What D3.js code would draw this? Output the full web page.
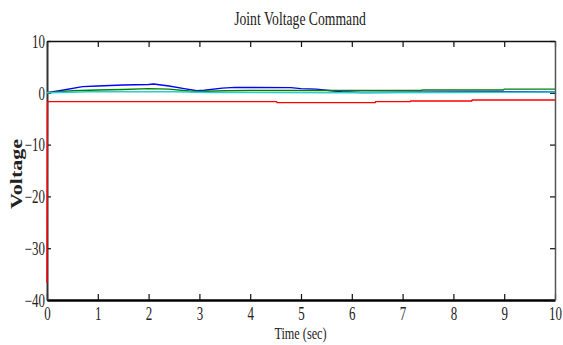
<!DOCTYPE html>
<html>
<head>
<meta charset="utf-8">
<script src="https://cdn.jsdelivr.net/npm/d3@7"></script>
<style>
  html, body { margin: 0; padding: 0; background: #fff; }
  svg text { font-family: "Liberation Serif", "Times New Roman", serif; fill: #222; }
</style>
</head>
<body>
<svg id="chart" width="563" height="345"></svg>
<script>
// Axis ranges and tick values
const xDomain = [0, 10];
const yDomain = [-40, 10];
const xTicks = [0, 1, 2, 3, 4, 5, 6, 7, 8, 9, 10];
const yTicks = [-40, -30, -20, -10, 0, 10];

// Joint voltage command traces: [time (sec), voltage]
const joint1 = [[0, 0], [0.3, 0.5], [0.7, 1.2], [1.0, 1.3], [1.5, 1.5], [2.0, 1.6], [2.1, 1.7],
  [2.4, 1.3], [2.7, 0.8], [2.95, 0.4], [3.1, 0.5], [3.45, 0.9], [3.7, 1.05], [4.8, 1.0],
  [5.0, 0.8], [5.3, 0.7], [5.6, 0.4], [5.8, 0.2], [6.2, 0.05], [7.0, 0.1], [8.0, 0.15],
  [9.0, 0.2], [10, 0.2]];
const joint2 = [[0, 0], [0.5, 0.4], [1.0, 0.55], [1.5, 0.65], [2.0, 0.8], [2.4, 0.7],
  [2.8, 0.35], [3.0, 0.25], [3.5, 0.4], [4.0, 0.45], [6.0, 0.45], [7.35, 0.45], [7.4, 0.55],
  [8.98, 0.55], [9.0, 0.7], [10, 0.7]];
const joint3 = [[0, 0], [0.5, 0.1], [0.8, 0.2], [2.5, 0.2], [3.2, 0.05], [6.0, 0.0],
  [8.0, 0.05], [9.0, 0.1], [10, 0.15]];
const joint4 = [[0, -36.7], [0.01, -1.7], [4.52, -1.7], [4.53, -1.9], [6.46, -1.9],
  [6.47, -1.7], [7.15, -1.7], [7.16, -1.58], [8.36, -1.58], [8.37, -1.4], [10, -1.4]];

const series = [
  { data: joint1, color: "#0000ff" },
  { data: joint2, color: "#008000" },
  { data: joint4, color: "#ff0000" },
  { data: joint3, color: "#2ecccc" }
];

const svg = d3.select("#chart");
const plot = { left: 47, right: 555, top: 41, bottom: 300 };
const sx = 0.72; // horizontal squeeze of the serif lettering
const fs = 18;

const x = d3.scaleLinear().domain(xDomain).range([plot.left, plot.right]);
const y = d3.scaleLinear().domain(yDomain).range([plot.bottom, plot.top]);

// Axes: ticks point into the plot on all four sides
const gBottom = svg.append("g").attr("transform", `translate(0,${plot.bottom})`)
  .call(d3.axisBottom(x).tickValues(xTicks).tickSize(-6).tickSizeOuter(0).tickFormat(d3.format("d")));
const gTop = svg.append("g").attr("transform", `translate(0,${plot.top})`)
  .call(d3.axisTop(x).tickValues(xTicks).tickSize(-6).tickSizeOuter(0).tickFormat(""));
const gLeft = svg.append("g").attr("transform", `translate(${plot.left},0)`)
  .call(d3.axisLeft(y).tickValues(yTicks).tickSize(-4).tickSizeOuter(0).tickFormat(d3.format("d")));
const gRight = svg.append("g").attr("transform", `translate(${plot.right},0)`)
  .call(d3.axisRight(y).tickValues(yTicks).tickSize(-5).tickSizeOuter(0).tickFormat(""));

[gBottom, gTop, gLeft, gRight].forEach(g => {
  g.selectAll(".tick line").attr("stroke", "#111").attr("stroke-width", 1.2);
});
gBottom.select(".domain").attr("stroke", "#000").attr("stroke-width", 2.5);
gTop.select(".domain").attr("stroke", "#111").attr("stroke-width", 1.5);
gLeft.select(".domain").attr("stroke", "#333").attr("stroke-width", 2);
gRight.select(".domain").attr("stroke", "#555").attr("stroke-width", 1.5);

gBottom.selectAll(".tick text")
  .attr("font-family", null).attr("font-size", fs).attr("fill", "#222")
  .attr("y", 20).attr("dy", null)
  .attr("transform", `scale(${sx},1)`);
gLeft.selectAll(".tick text")
  .attr("font-family", null).attr("font-size", fs).attr("fill", "#222")
  .attr("x", -2 / sx).attr("dy", "0.35em")
  .attr("transform", `scale(${sx},1)`);

// Traces
const line = d3.line().x(d => x(d[0])).y(d => y(d[1]));
svg.append("g").selectAll("path").data(series).join("path")
  .attr("d", d => line(d.data))
  .attr("fill", "none")
  .attr("stroke", d => d.color)
  .attr("stroke-width", 1.4);

// Titles
svg.append("text")
  .attr("transform", `translate(300,25) scale(${sx},1)`)
  .attr("text-anchor", "middle").attr("font-size", 19)
  .text("Joint Voltage Command");
svg.append("text")
  .attr("transform", `translate(300.5,339) scale(${sx},1)`)
  .attr("text-anchor", "middle").attr("font-size", 17)
  .text("Time (sec)");
svg.append("text")
  .attr("transform", `translate(22,174) rotate(-90) scale(1,${sx})`)
  .attr("text-anchor", "middle").attr("font-size", 22).attr("font-weight", "bold")
  .text("Voltage");
</script>
</body>
</html>
